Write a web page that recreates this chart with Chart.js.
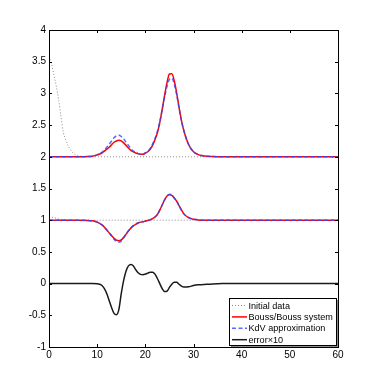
<!DOCTYPE html>
<html lang="en">
<head>
<meta charset="UTF-8">
<title>Bouss/Bouss vs KdV</title>
<script src="https://cdn.jsdelivr.net/npm/chart.js"></script>
<style>
  html, body { margin: 0; padding: 0; background: #fff; }
  #wrap { width: 374px; height: 390px; }
</style>
</head>
<body>
<div id="wrap"><canvas id="graf" width="374" height="390"></canvas></div>
<script>
// x points shared by the wave curves
const xGrid = [0, 2, 4, 6, 8, 9, 10, 10.5, 11, 11.5, 12, 12.5, 13, 13.5, 14, 14.5, 15, 15.5, 16, 16.5,
  17, 17.5, 18, 18.5, 19, 19.5, 20, 20.5, 21, 21.5, 22, 22.5, 23, 23.5, 24, 24.5, 25, 25.5, 26, 26.5,
  27, 27.5, 28, 29, 30, 31, 32, 34, 36, 40, 50, 60];

// Bouss/Bouss system (upper shifted by 2, lower by 1)
const boussUpper = [2, 2, 2, 2, 2.003, 2.01, 2.03, 2.045, 2.06, 2.09, 2.12, 2.15, 2.19, 2.23, 2.25, 2.26, 2.25, 2.22, 2.18, 2.14,
  2.10, 2.08, 2.06, 2.05, 2.04, 2.04, 2.06, 2.08, 2.12, 2.18, 2.27, 2.38, 2.54, 2.75, 2.97, 3.17, 3.305, 3.31, 3.20, 3.01,
  2.78, 2.57, 2.41, 2.19, 2.08, 2.035, 2.015, 2.003, 2, 2, 2, 2];
const boussLower = [1, 1, 1, 1, 0.997, 0.99, 0.97, 0.95, 0.925, 0.89, 0.845, 0.80, 0.755, 0.715, 0.685, 0.676, 0.69, 0.73, 0.78, 0.83,
  0.875, 0.91, 0.935, 0.955, 0.97, 0.975, 0.985, 0.995, 1.005, 1.025, 1.05, 1.09, 1.16, 1.24, 1.32, 1.38, 1.40, 1.39, 1.35, 1.30,
  1.23, 1.16, 1.10, 1.04, 1.015, 1.005, 1, 1, 1, 1, 1, 1];

// KdV approximation
const kdvUpper = [2, 2, 2, 2, 2.003, 2.01, 2.03, 2.05, 2.07, 2.11, 2.15, 2.20, 2.25, 2.30, 2.33, 2.34, 2.32, 2.28, 2.23, 2.18,
  2.13, 2.09, 2.07, 2.05, 2.04, 2.04, 2.06, 2.09, 2.13, 2.20, 2.29, 2.40, 2.55, 2.74, 2.94, 3.11, 3.22, 3.24, 3.15, 2.98,
  2.77, 2.57, 2.41, 2.19, 2.08, 2.035, 2.015, 2.003, 2, 2, 2, 2];
const kdvLower = [1, 1, 1, 1, 0.997, 0.99, 0.97, 0.95, 0.925, 0.89, 0.845, 0.80, 0.75, 0.70, 0.665, 0.652, 0.67, 0.72, 0.78, 0.835,
  0.88, 0.915, 0.935, 0.955, 0.97, 0.975, 0.985, 0.995, 1.005, 1.025, 1.05, 1.09, 1.16, 1.24, 1.32, 1.38, 1.41, 1.40, 1.35, 1.30,
  1.23, 1.16, 1.10, 1.04, 1.015, 1.005, 1, 1, 1, 1, 1, 1];

// error x 10
const errorX10 = [0, 0, 0, 0, 0, 0, -0.003, -0.01, -0.03, -0.08, -0.16, -0.27, -0.38, -0.47, -0.49, -0.41, -0.16, 0.05, 0.20, 0.28,
  0.30, 0.28, 0.22, 0.17, 0.145, 0.14, 0.15, 0.165, 0.18, 0.18, 0.15, 0.08, 0.0, -0.08, -0.125, -0.12, -0.06, -0.01, 0.02, 0.02,
  -0.01, -0.04, -0.055, -0.05, -0.03, -0.02, -0.015, -0.005, 0, 0, 0, 0];

// initial data
const initX = [0, 0.5, 1, 1.5, 2, 2.5, 3, 3.5, 4, 4.5, 5, 6, 7, 8, 60];
const initUpper = [3.58, 3.48, 3.30, 3.12, 2.90, 2.63, 2.38, 2.26, 2.17, 2.11, 2.06, 2.02, 2.004, 2, 2];
const initLower = [1.05, 1.048, 1.04, 1.03, 1.02, 1.012, 1.006, 1.003, 1.001, 1, 1, 1, 1, 1, 1];

const xTicks = [0, 60, 10];   // min, max, step
const yTicks = [-1, 4, 0.5];

const zip = (xs, ys) => xs.map((x, i) => ({ x: x, y: ys[i] }));

const GRAY = '#8a8a8a', RED = '#ff0000', BLUE = 'rgba(45,70,255,0.8)', BLACK = '#1a1a1a';

function linea(label, xs, ys, color, width, dash, order, legenda) {
  return {
    label: label, data: zip(xs, ys), borderColor: color, borderWidth: width,
    borderDash: dash, pointRadius: 0, fill: false, cubicInterpolationMode: 'monotone',
    order: order, legenda: legenda
  };
}

const datasets = [
  linea('Initial data', initX, initUpper, GRAY, 1, [1, 2], 4, true),
  linea('Initial data', initX, initLower, GRAY, 1, [1, 2], 4, false),
  linea('Bouss/Bouss system', xGrid, boussUpper, RED, 1.5, [], 3, true),
  linea('Bouss/Bouss system', xGrid, boussLower, RED, 1.5, [], 3, false),
  linea('KdV approximation', xGrid, kdvUpper, BLUE, 1.5, [4, 2.5], 2, true),
  linea('KdV approximation', xGrid, kdvLower, BLUE, 1.5, [4, 2.5], 2, false),
  linea('error\u00d710', xGrid, errorX10, BLACK, 1.5, [], 1, true)
];

// box and inward ticks, like the matlab axes
const boxPlugin = {
  id: 'boxAxes',
  afterDatasetsDraw(chart) {
    const ctx = chart.ctx, a = chart.chartArea;
    const sx = chart.scales.x, sy = chart.scales.y;
    ctx.save();
    ctx.strokeStyle = '#000';
    ctx.lineWidth = 1;
    ctx.setLineDash([]);
    ctx.beginPath();
    sx.ticks.forEach(t => {
      const p = Math.round(sx.getPixelForValue(t.value)) + 0.5;
      ctx.moveTo(p, a.bottom); ctx.lineTo(p, a.bottom - 3);
      ctx.moveTo(p, a.top); ctx.lineTo(p, a.top + 3);
    });
    sy.ticks.forEach(t => {
      const p = Math.round(sy.getPixelForValue(t.value)) + 0.5;
      ctx.moveTo(a.left, p); ctx.lineTo(a.left + 3, p);
      ctx.moveTo(a.right, p); ctx.lineTo(a.right - 3, p);
    });
    ctx.stroke();
    ctx.strokeRect(Math.round(a.left) + 0.5, Math.round(a.top) + 0.5,
      Math.round(a.right - a.left), Math.round(a.bottom - a.top));
    ctx.restore();
  }
};

// legend box in the lower right corner of the axes
const legendPlugin = {
  id: 'boxLegend',
  afterDraw(chart) {
    const ctx = chart.ctx, a = chart.chartArea;
    const items = chart.data.datasets.filter(d => d.legenda);
    const w = 107, h = 47;
    const x0 = Math.round(a.right) - 2 - w, y0 = Math.round(a.bottom) - 2 - h;
    ctx.save();
    ctx.fillStyle = '#8c8c8c';
    ctx.fillRect(x0 + 2, y0 + 2, w, h);
    ctx.fillStyle = '#fff';
    ctx.fillRect(x0, y0, w, h);
    ctx.strokeStyle = '#000';
    ctx.lineWidth = 1;
    ctx.strokeRect(x0 + 0.5, y0 + 0.5, w, h);
    ctx.font = '9.1px "Liberation Sans", Arial, sans-serif';
    ctx.textBaseline = 'middle';
    items.forEach((d, i) => {
      const yy = y0 + 7.5 + i * 11.4;
      ctx.strokeStyle = d.borderColor;
      ctx.lineWidth = d.borderWidth;
      ctx.setLineDash(d.borderDash);
      ctx.beginPath();
      ctx.moveTo(x0 + 3, yy); ctx.lineTo(x0 + 18, yy);
      ctx.stroke();
      ctx.setLineDash([]);
      ctx.fillStyle = '#000';
      ctx.fillText(d.label, x0 + 19.5, yy + 0.5);
    });
    ctx.restore();
  }
};

Chart.defaults.font.family = '"Liberation Sans", Arial, sans-serif';
Chart.defaults.font.size = 10;
Chart.defaults.color = '#000';

new Chart(document.getElementById('graf').getContext('2d'), {
  type: 'line',
  data: { datasets: datasets },
  options: {
    responsive: false,
    animation: false,
    devicePixelRatio: 1,
    layout: { padding: { top: 30, right: 36, left: 0, bottom: 0 } },
    plugins: { legend: { display: false }, tooltip: { enabled: false } },
    scales: {
      x: {
        type: 'linear', min: xTicks[0], max: xTicks[1],
        ticks: { stepSize: xTicks[2], padding: 2, maxRotation: 0, callback: v => String(v) },
        grid: { display: false, drawTicks: false },
        border: { display: false },
        afterFit: s => { s.height = 43; }
      },
      y: {
        type: 'linear', min: yTicks[0], max: yTicks[1],
        ticks: { stepSize: yTicks[2], padding: 3, autoSkip: false, callback: v => String(v) },
        grid: { display: false, drawTicks: false },
        border: { display: false },
        afterFit: s => { s.width = 49; }
      }
    }
  },
  plugins: [boxPlugin, legendPlugin]
});
</script>
</body>
</html>
